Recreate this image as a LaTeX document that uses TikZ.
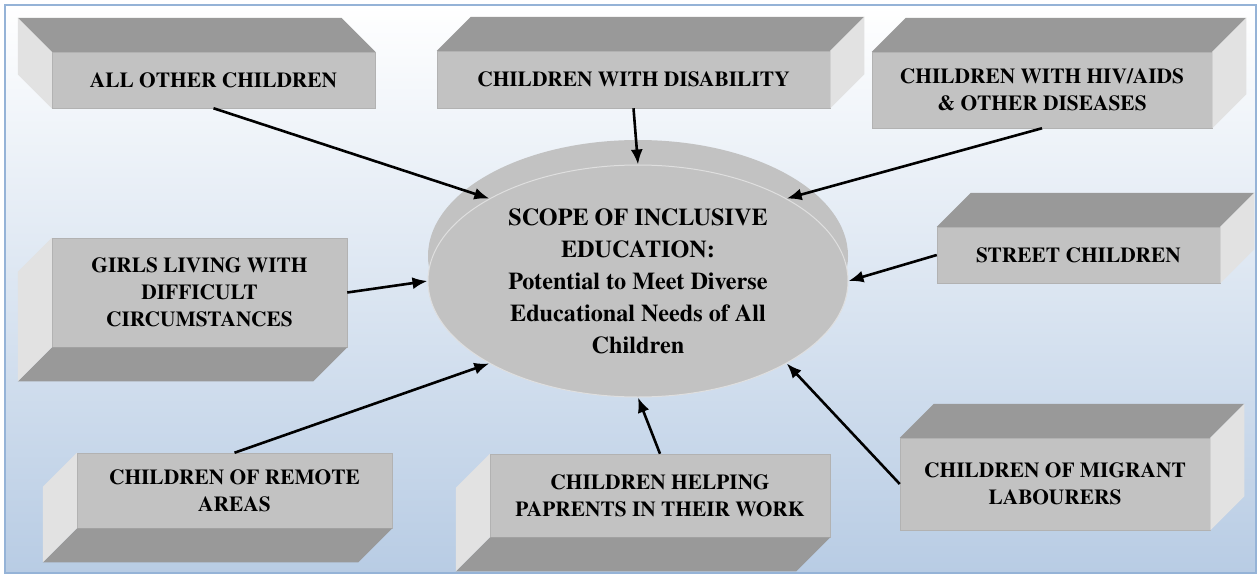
\documentclass[tikz,border=0pt]{standalone}
\usepackage{fontspec}
\setmainfont{texgyretermes-regular.otf}[BoldFont=texgyretermes-bold.otf]
\usetikzlibrary{shapes.geometric,arrows.meta}
\definecolor{face}{HTML}{C2C2C2}
\definecolor{lid}{HTML}{999999}
\definecolor{side}{HTML}{E2E2E2}
\definecolor{frame}{HTML}{95B3D7}
\definecolor{sky}{HTML}{B8CCE4}

\begin{document}
\begin{tikzpicture}[x=1pt,y=-1pt]
    \def\dd{34}

    \tikzstyle{grp}=[fill=face,draw=gray!60,line width=0.5pt,inner sep=0pt,align=center,font=\bfseries\fontsize{21.4}{27}\selectfont]
    \tikzstyle{centre}=[ellipse,fill=face,draw=gray!25,line width=1pt,inner sep=0pt,minimum width=420pt,minimum height=232pt,align=center,font=\bfseries\fontsize{24.2}{32}\selectfont]
    \tikzstyle{fwd}=[draw=black,line width=2.6pt,-{Latex[length=15pt,width=12pt]}]

    % page and frame
    \useasboundingbox (0,0) rectangle (1259,576);
    \shade[top color=white,bottom color=sky] (5,5) rectangle (1256,573);
    \draw[frame,line width=2.5pt] (5,5) rectangle (1256,573);

    \node[grp,minimum width=323pt,minimum height=56pt]  (aoc) at (213.5,80) {ALL OTHER CHILDREN};
    \node[grp,minimum width=393pt,minimum height=57pt]  (cwd) at (633.5,79.5) {CHILDREN WITH DISABILITY};
    \node[grp,minimum width=340pt,minimum height=76pt]  (hiv) at (1042,90) {CHILDREN WITH HIV/AIDS\\ \& OTHER DISEASES};
    \node[grp,minimum width=283pt,minimum height=56pt]  (sc) at (1078.5,255) {STREET CHILDREN};
    \node[grp,minimum width=295pt,minimum height=109pt] (girls) at (199.5,292.5) {GIRLS LIVING WITH\\ DIFFICULT\\ CIRCUMSTANCES};
    \node[grp,minimum width=315pt,minimum height=75pt]  (remote) at (234.5,490.5) {CHILDREN OF REMOTE\\ AREAS};
    \node[grp,minimum width=340pt,minimum height=83pt]  (help) at (660,495.5) {CHILDREN HELPING\\ PAPRENTS IN THEIR WORK};
    \node[grp,minimum width=310pt,minimum height=92pt]  (migrant) at (1055,484) {CHILDREN OF MIGRANT\\ LABOURERS};

    % depth faces of the boxes
    \foreach \n in {aoc} {
      \fill[lid] (\n.north west) -- ([shift={(-\dd,-\dd)}]\n.north west) -- ([shift={(-\dd,-\dd)}]\n.north east) -- (\n.north east) -- cycle;
      \fill[side] (\n.north west) -- ([shift={(-\dd,-\dd)}]\n.north west) -- ([shift={(-\dd,-\dd)}]\n.south west) -- (\n.south west) -- cycle;
    }
    \foreach \n in {cwd,hiv,sc,migrant} {
      \fill[lid] (\n.north west) -- ([shift={(\dd,-\dd)}]\n.north west) -- ([shift={(\dd,-\dd)}]\n.north east) -- (\n.north east) -- cycle;
      \fill[side] (\n.north east) -- ([shift={(\dd,-\dd)}]\n.north east) -- ([shift={(\dd,-\dd)}]\n.south east) -- (\n.south east) -- cycle;
    }
    \foreach \n in {girls,remote,help} {
      \fill[lid] (\n.south west) -- ([shift={(-\dd,\dd)}]\n.south west) -- ([shift={(-\dd,\dd)}]\n.south east) -- (\n.south east) -- cycle;
      \fill[side] (\n.north west) -- ([shift={(-\dd,\dd)}]\n.north west) -- ([shift={(-\dd,\dd)}]\n.south west) -- (\n.south west) -- cycle;
    }

    % raised rim of the ellipse
    \shade[left color=face,middle color=gray!70,right color=face] (638,256) ellipse [x radius=210,y radius=116];
    \node[centre] (ie) at (638,281) {SCOPE OF INCLUSIVE\\ EDUCATION:\\ Potential to Meet Diverse\\ Educational Needs of All\\ Children};

    \draw[fwd] (aoc.south) -- (ie.151);
    \draw[fwd] (cwd.south) -- (ie.north);
    \draw[fwd] (hiv.south) -- (ie.29);
    \draw[fwd] (sc.west) -- (ie.east);
    \draw[fwd] (girls.east) -- (ie.west);
    \draw[fwd] (remote.north) -- (ie.209);
    \draw[fwd] (help.north) -- (ie.south);
    \draw[fwd] (migrant.west) -- (ie.331);

\end{tikzpicture}
\end{document}
